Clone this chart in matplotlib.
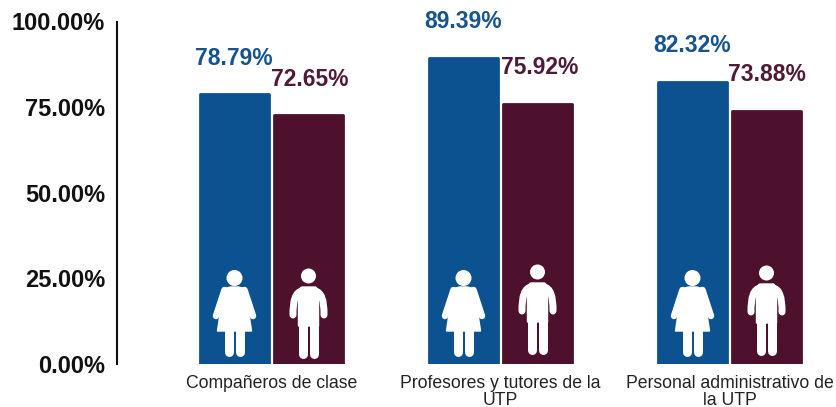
import matplotlib.pyplot as plt
import numpy as np
from matplotlib.path import Path
from matplotlib.patches import PathPatch, Circle
from matplotlib.transforms import Affine2D

plt.rcParams['font.family'] = ['Liberation Sans', 'DejaVu Sans']

categories = ['Compañeros de clase', 'Profesores y tutores de la\nUTP', 'Personal administrativo de\nla UTP']
mujeres = [78.79, 89.39, 82.32]
hombres = [72.65, 75.92, 73.88]
yticks = [0, 25, 50, 75, 100]

blue = '#0c5291'
maroon = '#4d112e'

W, H = 836, 407
fig = plt.figure(figsize=(W/100, H/100), dpi=100)
ax = fig.add_axes([117/W, (H-364)/H, (W-117)/W, 342.5/H])

x = np.arange(3)
group_px = 229.
offset = 37/group_px
width = 69/group_px

ax.set_xlim(-154.5/group_px, (W-271.5)/group_px)
ax.set_ylim(0, 100)

b1 = ax.bar(x-offset, mujeres, width, color=blue, edgecolor=blue, linewidth=2)
b2 = ax.bar(x+offset, hombres, width, color=maroon, edgecolor=maroon, linewidth=2)
for b in list(b1)+list(b2):
    b.set_joinstyle('round')

# y axis, only the line
for s in ['top', 'right', 'bottom']:
    ax.spines[s].set_visible(False)
ax.spines['left'].set_linewidth(1.5)
ax.spines['left'].set_color('#111111')
ax.set_yticks(yticks)
ax.set_yticklabels([f'{t:.2f}%' for t in yticks], fontsize=17, fontweight='bold', color='#111111')
ax.tick_params(axis='y', length=0, pad=8.5)
ax.set_xticks(x)
ax.set_xticklabels(categories, fontsize=12.7, color='#222222', linespacing=0.96)
ax.tick_params(axis='x', length=0, pad=8)

# value labels
dx_m = [-1, 0, 0]
dx_h = [1, 2, 0]
for i in x:
    ax.annotate(f'{mujeres[i]:.2f}%', (i-offset, mujeres[i]), xytext=(dx_m[i]*0.72, 26),
                textcoords='offset points', ha='center', va='center',
                fontsize=16.5, fontweight='bold', color='#17548f', annotation_clip=False)
    ax.annotate(f'{hombres[i]:.2f}%', (i+offset, hombres[i]), xytext=(dx_h[i]*0.72, 26),
                textcoords='offset points', ha='center', va='center',
                fontsize=16.5, fontweight='bold', color='#4f1a38', annotation_clip=False)

# icons, local pixel coords: origin at the head centre, y goes down
woman_body = [(-4, 9), (4, 9), (10, 10.5), (13, 26), (17, 53), (-17, 53), (-13, 26), (-10, 10.5)]
woman_arms = [[(10, 12), (18.5, 38)], [(-10, 12), (-18.5, 38)]]
woman_legs = [[(5.5, 50), (5.5, 73.5)], [(-5.5, 50), (-5.5, 73.5)]]

man_body = [(-7, 11), (7, 11), (10, 14), (10, 50), (-10, 50), (-10, 14)]
man_legs = [[(5.5, 48), (5.5, 78)], [(-5.5, 48), (-5.5, 78)]]

woman_head_y = [278, 278, 278]
man_head_y = [276, 272, 273]

def stroke(pts, tr, lw_px, curve=False):
    codes = [Path.MOVETO, Path.CURVE3, Path.CURVE3] if curve else None
    ax.add_patch(PathPatch(Path(pts, codes), fc='none', ec='white', lw=lw_px*0.72,
                           capstyle='round', transform=tr))

def draw_woman(xdata, head_y):
    cx = ax.transData.transform((xdata, 0))[0]
    tr = Affine2D().scale(1, -1).translate(cx, H-head_y)
    ax.add_patch(PathPatch(Path(woman_body + woman_body[:1]), fc='white', ec='white', lw=1,
                           joinstyle='round', transform=tr))
    for a in woman_arms:
        stroke(a, tr, 6.5)
    for l in woman_legs:
        stroke(l, tr, 9)
    ax.add_patch(Circle((0, 0), 8, fc='white', ec='none', transform=tr))

def draw_man(xdata, head_y):
    cx = ax.transData.transform((xdata, 0))[0]
    tr = Affine2D().scale(1, -1).translate(cx, H-head_y)
    ax.add_patch(PathPatch(Path(man_body + man_body[:1]), fc='white', ec='white', lw=1,
                           joinstyle='round', transform=tr))
    for sgn in [1, -1]:
        stroke([(sgn*6, 15), (sgn*16, 16), (sgn*15.5, 39)], tr, 7, curve=True)
    for l in man_legs:
        stroke(l, tr, 9)
    ax.add_patch(Circle((0, 0), 7.5, fc='white', ec='none', transform=tr))

for i in x:
    draw_woman(i-offset, woman_head_y[i])
    draw_man(i+offset, man_head_y[i])

fig.savefig('out.png', dpi=100)
